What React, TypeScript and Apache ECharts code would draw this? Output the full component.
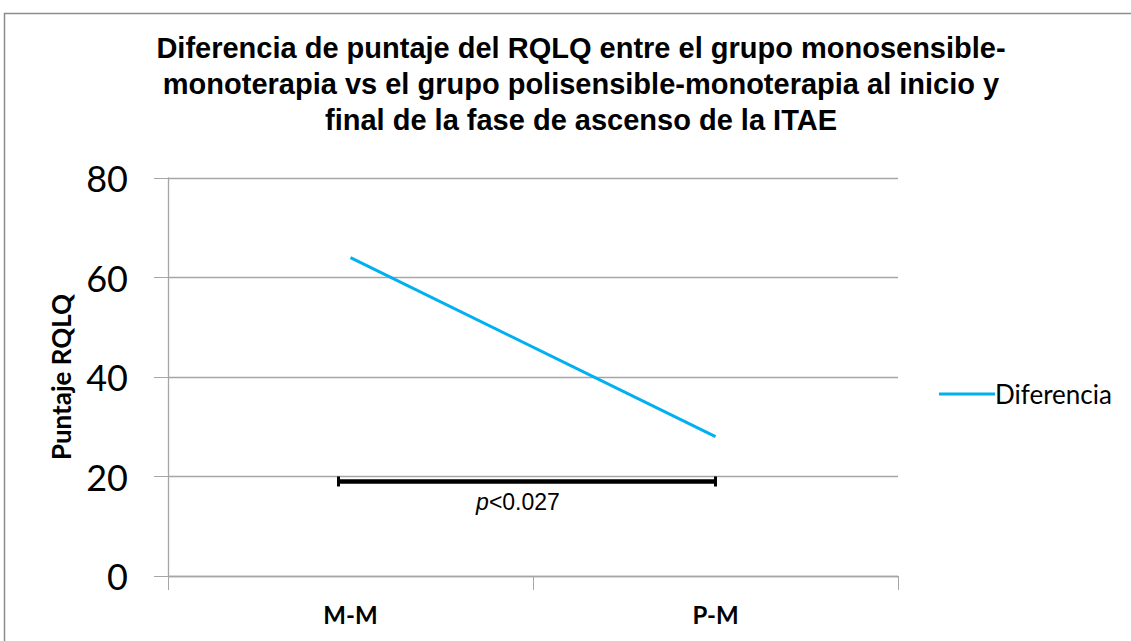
import React, { useEffect, useRef } from "react";
import * as echarts from "echarts";

const categories = ["M-M", "P-M"];
const diferencia = [64, 28];
const yTicks = { min: 0, max: 80, interval: 20 };
const bracketValue = 19;
const bracketLabel = "p<0.027";
const titleText =
  "Diferencia de puntaje del RQLQ entre el grupo monosensible-\nmonoterapia vs el grupo polisensible-monoterapia al inicio y\nfinal de la fase de ascenso de la ITAE";

export default function App() {
  const ref = useRef<HTMLDivElement>(null);
  useEffect(() => {
    if (!ref.current) return;
    const chart = echarts.init(ref.current, null, { renderer: "svg" });
    chart.setOption({
      animation: false,
      backgroundColor: "#ffffff",
      title: {
        text: titleText,
        left: 576,
        textAlign: "center",
        top: 25,
        textStyle: {
          fontFamily: "Liberation Sans, Arial, sans-serif",
          fontWeight: "bold",
          fontSize: 29,
          lineHeight: 36,
          color: "#000",
        },
      },
      graphic: [
        {
          type: "rect",
          shape: { x: 4.5, y: 13.5, width: 1140, height: 700 },
          style: { fill: "none", stroke: "#8c8c8c", lineWidth: 1.5 },
          silent: true,
        },
      ],
      legend: {
        orient: "vertical",
        left: 934,
        top: 376,
        itemWidth: 56,
        itemHeight: 14,
        itemGap: 4,
        textStyle: {
          fontFamily: "Lato, Open Sans, sans-serif",
          fontSize: 26,
          color: "#000",
          padding: [0, 0, 0, -5],
        },
        data: [{ name: "Diferencia", icon: "path://M0,0 L56,0 L56,3 L0,3 Z" }],
      },
      grid: { left: 168, right: 233, top: 178, bottom: 65 },
      xAxis: {
        type: "category",
        data: categories,
        boundaryGap: true,
        axisLine: { lineStyle: { color: "#a6a6a6", width: 1.3 } },
        axisTick: { show: true, length: 14, lineStyle: { color: "#a6a6a6" } },
        axisLabel: {
          margin: 26,
          fontFamily: "Lato, Open Sans, sans-serif",
          fontWeight: "bold",
          fontSize: 24,
          color: "#000",
        },
      },
      yAxis: {
        type: "value",
        min: yTicks.min,
        max: yTicks.max,
        interval: yTicks.interval,
        name: "Puntaje RQLQ",
        nameLocation: "middle",
        nameGap: 94,
        nameRotate: 90,
        nameTextStyle: {
          fontFamily: "Lato, Open Sans, sans-serif",
          fontWeight: "bold",
          fontSize: 26,
          color: "#000",
        },
        axisLine: { show: true, lineStyle: { color: "#a6a6a6", width: 1.3 } },
        axisTick: { show: true, length: 14, lineStyle: { color: "#a6a6a6" } },
        splitLine: { lineStyle: { color: "#a6a6a6", width: 1.3 } },
        axisLabel: {
          margin: 40,
          fontFamily: "Lato, Open Sans, sans-serif",
          fontSize: 36,
          color: "#000",
        },
      },
      series: [
        {
          name: "Diferencia",
          type: "line",
          data: diferencia,
          symbol: "none",
          lineStyle: { color: "#00b0f0", width: 3 },
          itemStyle: { color: "#00b0f0" },
        },
        {
          type: "custom",
          name: "bracket",
          data: [[0, 1, bracketValue]],
          renderItem: (params: any, api: any) => {
            const a = api.coord([api.value(0), api.value(2)]);
            const b = api.coord([api.value(1), api.value(2)]);
            const x1 = a[0] - 12;
            const x2 = b[0];
            const y = a[1];
            return {
              type: "group",
              children: [
                { type: "line", shape: { x1, y1: y, x2, y2: y }, style: { stroke: "#000", lineWidth: 4.5 } },
                { type: "line", shape: { x1, y1: y - 5, x2: x1, y2: y + 5 }, style: { stroke: "#000", lineWidth: 3 } },
                { type: "line", shape: { x1: x2, y1: y - 5, x2, y2: y + 5 }, style: { stroke: "#000", lineWidth: 3 } },
                {
                  type: "text",
                  style: {
                    x: (x1 + x2) / 2 - 9,
                    y: y + 21,
                    text: "{i|p}{n|" + bracketLabel.slice(1) + "}",
                    align: "center",
                    verticalAlign: "middle",
                    rich: {
                      i: { fontFamily: "Liberation Sans, Arial, sans-serif", fontStyle: "italic", fontSize: 23, fill: "#000" },
                      n: { fontFamily: "Liberation Sans, Arial, sans-serif", fontSize: 23, fill: "#000" },
                    },
                  },
                },
              ],
            };
          },
          silent: true,
          z: 5,
        },
      ],
    });
    return () => chart.dispose();
  }, []);
  return (
    <div style={{ position: "fixed", left: 0, top: 0, width: 1131, height: 641, background: "#fff" }}>
      <div ref={ref} style={{ width: 1131, height: 641 }} />
    </div>
  );
}
